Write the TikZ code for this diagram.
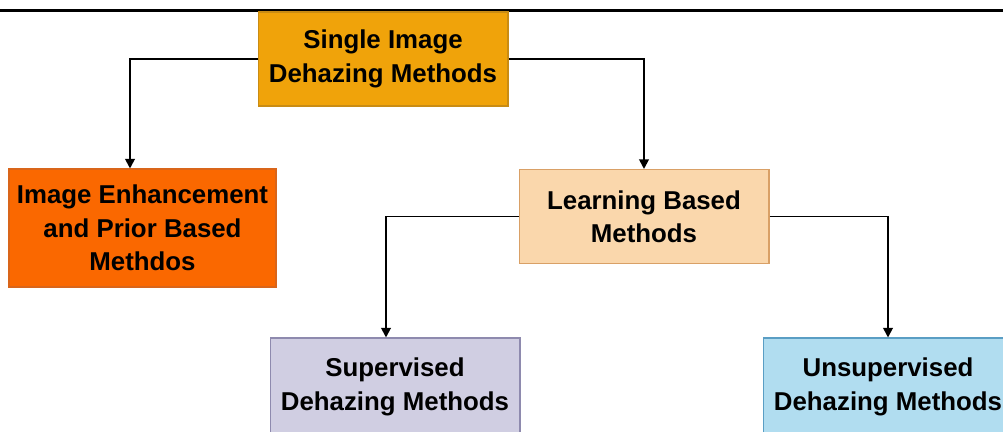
\documentclass[tikz,border=0pt]{standalone}
\usepackage{fontspec}
\setmainfont{Liberation Sans}
\usetikzlibrary{arrows.meta}

\definecolor{topfill}{HTML}{F0A30A}
\definecolor{topline}{HTML}{C98C14}
\definecolor{priorfill}{HTML}{FA6800}
\definecolor{priorline}{HTML}{D9651A}
\definecolor{learnfill}{HTML}{FAD7AC}
\definecolor{learnline}{HTML}{D9A066}
\definecolor{supfill}{HTML}{D0CEE2}
\definecolor{supline}{HTML}{8E8AAE}
\definecolor{unsupfill}{HTML}{B1DDF0}
\definecolor{unsupline}{HTML}{5A9EC4}

\tikzset{
    catbox/.style={draw, line width=0.6pt, inner sep=0pt, align=center,
        minimum width=5cm, minimum height=1.88cm,
        font=\bfseries\fontsize{14.7}{19}\selectfont},
    arr/.style={-{Triangle[length=5.5pt,width=5.5pt]}, line width=1.1pt, black}
}

\begin{document}
\begin{tikzpicture}[x=0.02cm,y=-0.02cm]
    \useasboundingbox (0,0) rectangle (1003,432);
    \clip (0,0) rectangle (1003,432);

    % header rule of the page
    \draw[line width=1.8pt] (0,10.5) -- (1003,10.5);

    \node[catbox, fill=topfill, draw=topline] (single) at (383,59)
        {Single Image\\Dehazing Methods};
    \node[catbox, fill=priorfill, draw=priorline,
          minimum width=5.34cm, minimum height=2.36cm] (prior) at (142.5,228)
        {Image Enhancement\\and Prior Based\\Methdos};
    \node[catbox, fill=learnfill, draw=learnline] (learn) at (644,216.5)
        {Learning Based\\Methods};
    \node[catbox, fill=supfill, draw=supline, minimum height=1.96cm] (sup) at (395,387)
        {Supervised\\Dehazing Methods};
    \node[catbox, fill=unsupfill, draw=unsupline, minimum height=1.96cm] (unsup) at (888,387)
        {Unsupervised\\Dehazing Methods};

    \draw[arr] (single.west) -| ([xshift=-0.25cm]prior.north);
    \draw[arr] (single.east) -| (learn.north);
    \draw[arr] (learn.west) -| ([xshift=-0.18cm]sup.north);
    \draw[arr] (learn.east) -| (unsup.north);
\end{tikzpicture}
\end{document}
